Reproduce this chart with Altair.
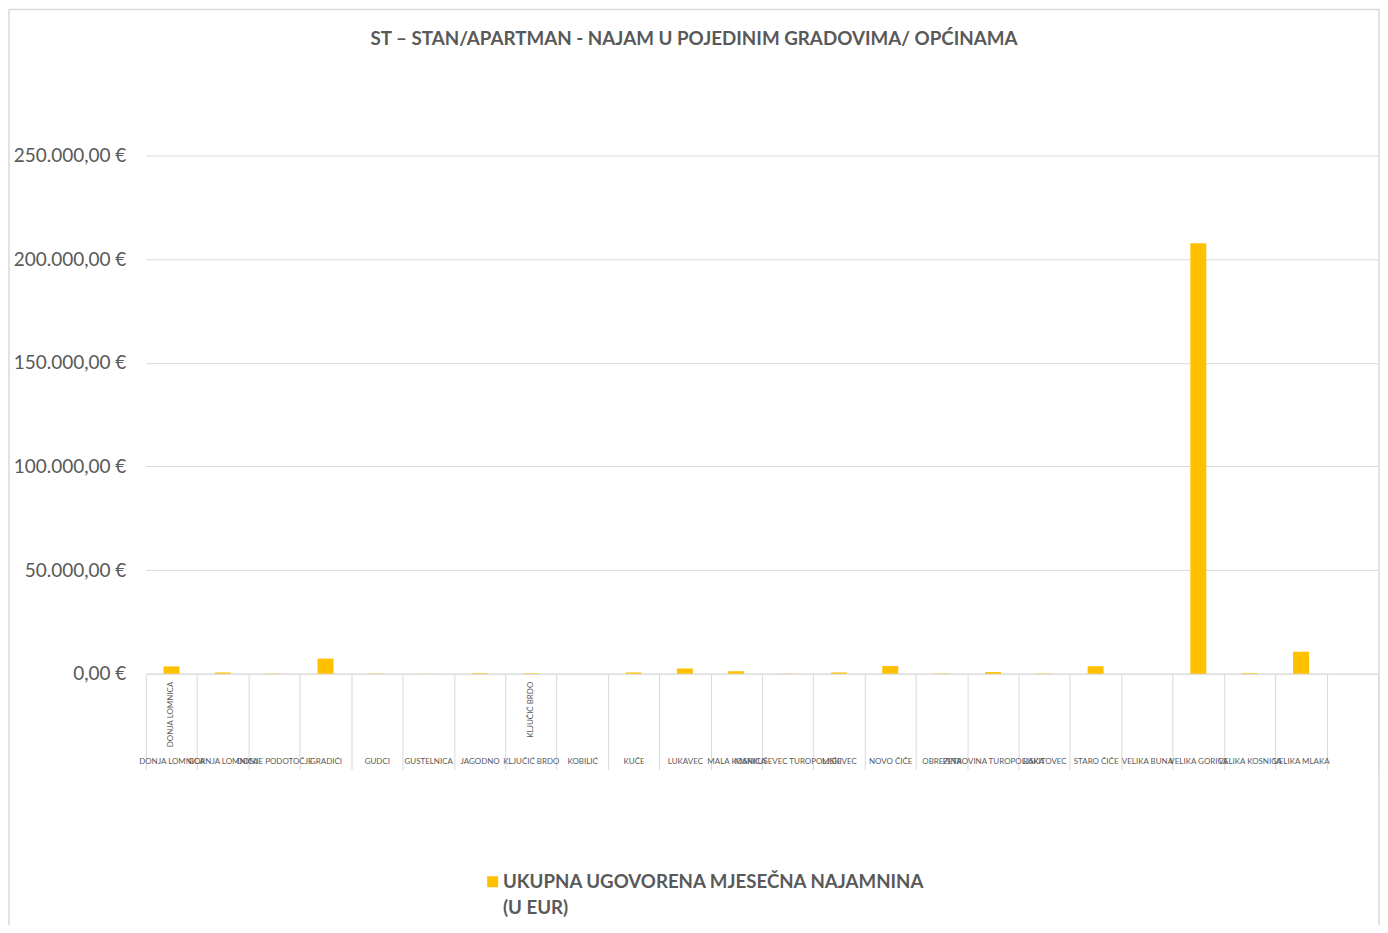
import altair as alt
import pandas as pd

# ---- data ----
categories = ["DONJA LOMNICA", "GORNJA LOMNICA", "DONJE PODOTOČJE", "GRADIĆI", "GUDCI",
              "GUSTELNICA", "JAGODNO", "KLJUČIĆ BRDO", "KOBILIĆ", "KUČE", "LUKAVEC",
              "MALA KOSNICA", "MARKUŠEVEC TUROPOLJSKI", "MIČEVEC", "NOVO ČIČE", "OBREZINA",
              "PETROVINA TUROPOLJSKA", "RAKITOVEC", "STARO ČIČE", "VELIKA BUNA",
              "VELIKA GORICA", "VELIKA KOSNICA", "VELIKA MLAKA", " "]
values = [3500, 600, 150, 7300, 150, 50, 300, 250, 0, 600, 2500, 1200, 100, 600, 3700,
          150, 800, 150, 3600, 0, 207700, 300, 10600, None]
inner_cats = ["DONJA LOMNICA", "KLJUČIĆ BRDO"]
inner_labels = ["DONJA LOMNICA", "KLJUČIĆ BRDO"]
series_name = "UKUPNA UGOVORENA MJESEČNA NAJAMNINA (U EUR)"
title_text = "ST – STAN/APARTMAN - NAJAM U POJEDINIM GRADOVIMA/ OPĆINAMA"
y_ticks = [0, 50000, 100000, 150000, 200000, 250000]

df = pd.DataFrame({"grad": categories, "iznos": values, "serija": series_name})
df_inner = pd.DataFrame({"grad": inner_cats, "oznaka": inner_labels})

FONT = "Lato"
TXT = "#595959"
GRID = "#D9D9D9"
W, H = 1234, 519

x_enc = alt.X(
    "grad:N", sort=categories, title=None,
    scale=alt.Scale(paddingInner=0, paddingOuter=0),
    axis=alt.Axis(labelAngle=0, labelFontSize=8, labelColor=TXT, labelFont=FONT,
                  labelOverlap=False, labelPadding=-12, tickSize=96, tickColor=GRID,
                  tickBand="extent", domainColor=GRID, labelLimit=300, grid=False),
)

bars = alt.Chart(df).mark_bar(size=16, color="#FFC000").encode(
    x=x_enc,
    y=alt.Y("iznos:Q", title=None,
            scale=alt.Scale(domain=[0, 250000], nice=False),
            axis=alt.Axis(values=y_ticks, labelFontSize=19, labelColor=TXT, labelFont=FONT,
                          labelPadding=20, ticks=False, domain=False, gridColor=GRID,
                          labelExpr="replace(replace(replace(format(datum.value, ',.2f'), ',', '_'), '.', ','), '_', '.') + ' €'")),
    color=alt.Color("serija:N", title=None,
                    scale=alt.Scale(range=["#FFC000"]),
                    legend=alt.Legend(orient="none", legendX=338, legendY=718,
                                      symbolType="square", symbolSize=121,
                                      symbolStrokeWidth=0, labelFontSize=18.7,
                                      labelFontWeight="bold", labelColor=TXT,
                                      labelFont=FONT, labelLimit=600, labelOffset=1,
                                      labelExpr="[substring(datum.label, 0, 35), substring(datum.label, 36)]")),
)

inner = alt.Chart(df_inner).mark_text(angle=270, align="right", baseline="middle",
                                      fontSize=8, font=FONT, color=TXT).encode(
    x=alt.X("grad:N", sort=categories),
    y=alt.value(H + 8),
    text="oznaka:N",
)

frame = alt.Chart(pd.DataFrame({"k": [0]})).mark_rect(
    fill=None, stroke=GRID, strokeWidth=1.5).encode(
    x=alt.value(-137), x2=alt.value(1235), y=alt.value(-146.2), y2=alt.value(800)
)

chart = alt.layer(frame, bars, inner).properties(
    width=W, height=H,
    title=alt.TitleParams(title_text, fontSize=18.8, font=FONT, fontWeight="bold",
                          color=TXT, frame="group", anchor="middle", dx=-68, offset=-40),
    autosize=alt.AutoSizeParams(type="none"),
    padding={"left": 138, "top": 147, "right": 2, "bottom": 251},
).configure(view={"stroke": None}, style={"guide-label": {"lineHeight": 26}})

chart.save("out.html", embed_options={"renderer": "svg", "actions": False})
